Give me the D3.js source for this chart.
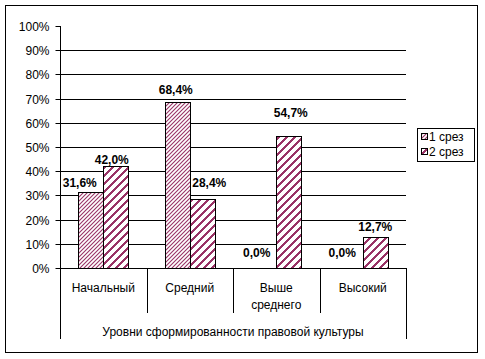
<!DOCTYPE html>
<html><head><meta charset="utf-8">
<script src="https://cdn.jsdelivr.net/npm/d3@7"></script>
<style>body{margin:0;background:#fff}svg{display:block}text{font-family:"Liberation Sans",Arial,sans-serif}</style>
</head><body><svg id="c" width="485" height="359"></svg>
<script>
const categories = ["Начальный", "Средний", "Выше среднего", "Высокий"];
const categoryLines = [["Начальный"], ["Средний"], ["Выше", "среднего"], ["Высокий"]];
const seriesNames = ["1 срез", "2 срез"];
const series1 = [31.6, 68.4, 0.0, 0.0];
const series2 = [42.0, 28.4, 54.7, 12.7];
const yTicks = [0, 10, 20, 30, 40, 50, 60, 70, 80, 90, 100];
const axisTitle = "Уровни сформированности правовой культуры";

const svg = d3.select("#c");
const L = 60, R = 406, T = 26, B = 268;
const color = "#993366";

// patterns
const defs = svg.append("defs");
const p1 = defs.append("pattern").attr("id", "pat1").attr("patternUnits", "userSpaceOnUse")
  .attr("width", 4).attr("height", 4);
p1.append("rect").attr("width", 4).attr("height", 4).attr("fill", "#fff");
p1.append("path").attr("d", "M-1,1 L1,-1 M0,4 L4,0 M3,5 L5,3").attr("stroke", color).attr("stroke-width", 1.1);
const p2 = defs.append("pattern").attr("id", "pat2").attr("patternUnits", "userSpaceOnUse")
  .attr("width", 8).attr("height", 8);
p2.append("rect").attr("width", 8).attr("height", 8).attr("fill", "#fff");
p2.append("path").attr("d", "M-2,2 L2,-2 M0,8 L8,0 M6,10 L10,6").attr("stroke", color).attr("stroke-width", 2.8)
  .attr("shape-rendering", "crispEdges");
const fills = ["url(#pat1)", "url(#pat2)"];

// outer border
svg.append("rect").attr("x", 5.5).attr("y", 5.5).attr("width", 472).attr("height", 347)
  .attr("fill", "#fff").attr("stroke", "#000");

const x0 = d3.scaleBand().domain(categories).range([L, R]).padding(0);
const groupW = 50;
const x1 = d3.scaleBand().domain([0, 1]).range([0, groupW]).padding(0);
const y = d3.scaleLinear().domain([0, 100]).range([B, T]);
const off = (x0.bandwidth() - groupW) / 2;

// gridlines
svg.append("g").selectAll("line").data(yTicks.filter(t => t > 0 && t < 100)).join("line")
  .attr("x1", L).attr("x2", R)
  .attr("y1", d => Math.round(y(d)) + 0.5).attr("y2", d => Math.round(y(d)) + 0.5)
  .attr("stroke", "#000");

// y axis
const yAxis = d3.axisLeft(y).tickValues(yTicks).tickFormat(d => d + "%").tickSize(5).tickPadding(6);
const ya = svg.append("g").attr("transform", `translate(${L + 0.5},0.5)`).call(yAxis);
ya.select(".domain").remove();
ya.selectAll("line").attr("stroke", "#000");
ya.selectAll("text").attr("font-size", 12).attr("fill", "#000").attr("dy", "0.35em");
ya.selectAll(".tick").attr("transform", d => `translate(0,${Math.round(y(d))})`);
svg.append("line").attr("x1", L + 0.5).attr("x2", L + 0.5).attr("y1", Math.round(y(100))).attr("y2", 339).attr("stroke", "#000");

// bars
const data = [series1, series2];
data.forEach((vals, si) => {
  svg.append("g").selectAll("rect").data(vals).join("rect")
    .attr("x", (d, i) => Math.round(x0(categories[i]) + off + x1(si)) + 0.5)
    .attr("y", d => Math.round(y(d)) + 0.5)
    .attr("width", x1.bandwidth())
    .attr("height", d => Math.max(0, Math.round(y(0)) - Math.round(y(d))))
    .attr("fill", fills[si]).attr("stroke", "#000")
    .style("display", d => d > 0 ? null : "none");
});

// value labels (with manual nudges as in the original)
const labelNudge = [
  [[-11, 0], [-1.5, -3.5], [-7, -6.5], [-8, -6.5]],
  [[-4, 2.6], [7, -7], [2, -14.3], [0, -1.6]]
];
data.forEach((vals, si) => {
  svg.append("g").selectAll("text").data(vals).join("text")
    .attr("x", (d, i) => x0(categories[i]) + off + x1(si) + x1.bandwidth() / 2 + labelNudge[si][i][0])
    .attr("y", (d, i) => y(d) - 9 + labelNudge[si][i][1])
    .attr("dy", "0.35em")
    .attr("text-anchor", "middle").attr("font-size", 12).attr("font-weight", "bold")
    .text(d => d.toFixed(1).replace(".", ",") + "%");
});

// x axis
svg.append("line").attr("x1", L).attr("x2", R + 1).attr("y1", B + 0.5).attr("y2", B + 0.5).attr("stroke", "#000");
categories.forEach((c, i) => {
  if (i > 0) {
    const xx = Math.round(x0(c)) + 0.5;
    svg.append("line").attr("x1", xx).attr("x2", xx).attr("y1", B).attr("y2", 313).attr("stroke", "#000");
  }
  const t = svg.append("text").attr("x", x0(c) + x0.bandwidth() / 2).attr("y", 292)
    .attr("text-anchor", "middle").attr("font-size", 12);
  categoryLines[i].forEach((ln, k) => t.append("tspan").attr("x", x0(c) + x0.bandwidth() / 2).attr("dy", k ? 17 : 0).text(ln));
});
svg.append("line").attr("x1", R + 0.5).attr("x2", R + 0.5).attr("y1", B).attr("y2", 339).attr("stroke", "#000");
svg.append("text").attr("x", (L + R) / 2).attr("y", 336).attr("text-anchor", "middle").attr("font-size", 12).text(axisTitle);

// legend
const lg = svg.append("g");
lg.append("rect").attr("x", 417.5).attr("y", 128.5).attr("width", 57).attr("height", 33).attr("fill", "#fff").attr("stroke", "#000");
seriesNames.forEach((n, i) => {
  const cy = 137 + i * 15;
  lg.append("rect").attr("x", 421.5).attr("y", cy - 3.5).attr("width", 6).attr("height", 6)
    .attr("fill", fills[i]).attr("stroke", "#000");
  lg.append("text").attr("x", 429).attr("y", cy).attr("dy", "0.35em").attr("font-size", 12).text(n);
});
</script></body></html>
